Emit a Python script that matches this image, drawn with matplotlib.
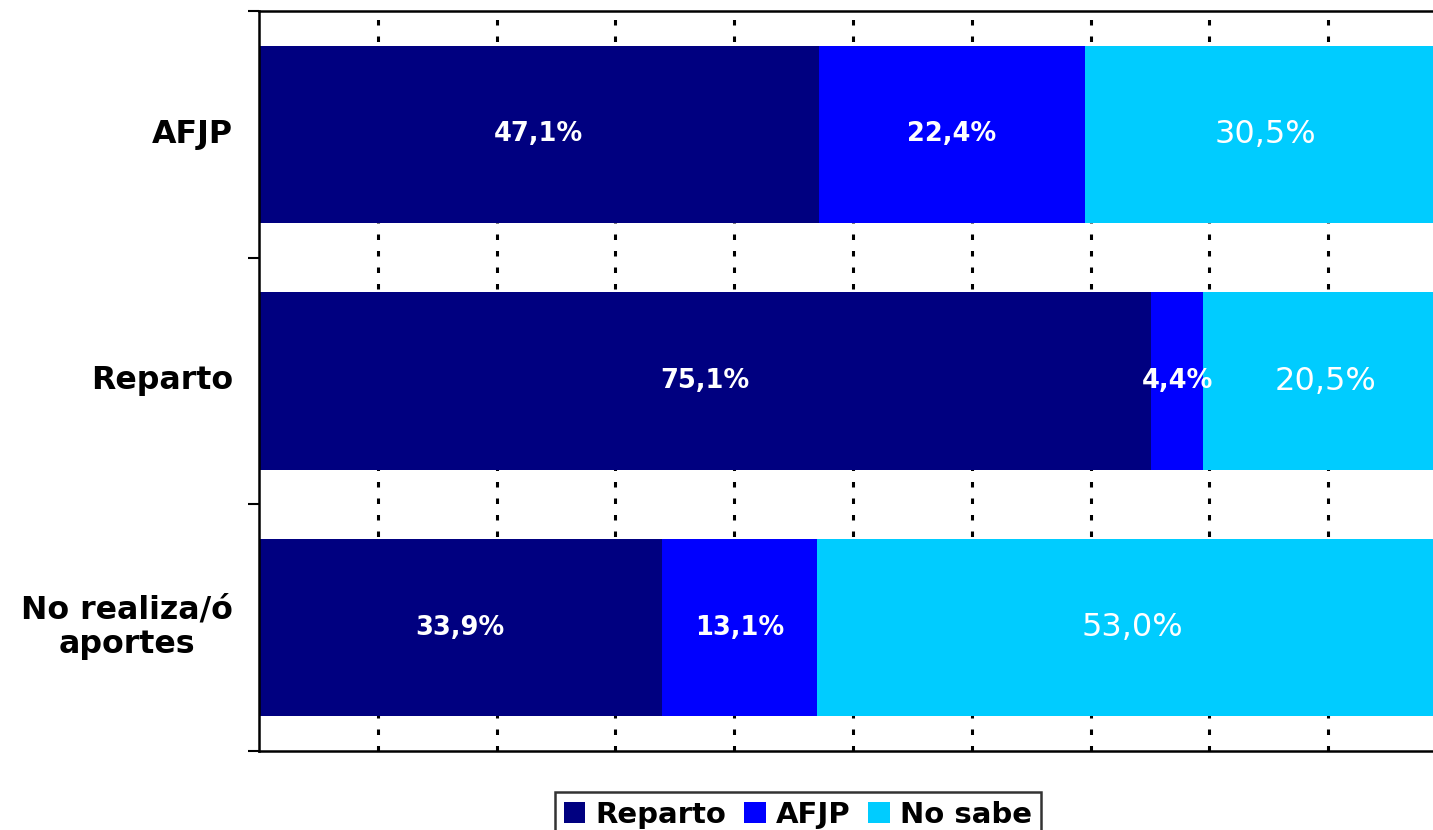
import matplotlib
matplotlib.use("Agg")
import matplotlib.pyplot as plt
import numpy as np
from matplotlib.patches import Patch

categories = ["AFJP", "Reparto", "No realiza/ó\naportes"]
series_names = ["Reparto", "AFJP", "No sabe"]
reparto = [47.1, 75.1, 33.9]
afjp = [22.4, 4.4, 13.1]
no_sabe = [30.5, 20.5, 53.0]
colors = ["#000080", "#0000FF", "#00CCFF"]

W, H = 1433, 830
fig = plt.figure(figsize=(W / 100, H / 100), dpi=100)
ax = fig.add_axes([259 / W, 1 - 751 / H, (1447 - 259) / W, (751 - 11) / H])

y = np.arange(len(categories))
data = [reparto, afjp, no_sabe]
left = np.zeros(len(categories))
for si, (vals, c) in enumerate(zip(data, colors)):
    vals = np.array(vals)
    ax.barh(y, vals, left=left, height=0.72, color=c, zorder=2)
    for yi, (l, v) in enumerate(zip(left, vals)):
        txt = f"{v:.1f}%".replace(".", ",")
        if si == 2:
            ax.text(l + v / 2, yi, txt, ha="center", va="center", color="white",
                    fontsize=23, fontweight="medium", zorder=3)
        else:
            ax.text(l + v / 2, yi, txt, ha="center", va="center", color="white",
                    fontsize=18.5, fontweight="bold", zorder=3)
    left = left + vals

ax.set_xlim(0, 100)
ax.set_ylim(2.5, -0.5)
ax.set_xticks(np.arange(10, 100, 10))
ax.tick_params(axis="x", length=0, labelbottom=False)
ax.xaxis.grid(True, color="black", linestyle=(0, (1.8, 3.6)), linewidth=2.2, zorder=1)
ax.set_axisbelow(True)
ax.set_yticks([-0.5, 0.5, 1.5, 2.5])
ax.set_yticklabels([])
ax.tick_params(axis="y", length=8, width=1.5, direction="out", color="black")
for yi, cat in enumerate(categories):
    ax.text(-2.2, yi, cat, ha="right", va="center", multialignment="center",
            fontsize=22.8, fontweight="bold", color="black", linespacing=1.15,
            transform=ax.transData)
for s in ["left", "top", "bottom"]:
    ax.spines[s].set_linewidth(1.8)
    ax.spines[s].set_color("black")
ax.spines["right"].set_visible(False)

handles = [Patch(facecolor=c, edgecolor="none", label=n) for c, n in zip(colors, series_names)]
leg = fig.legend(handles=handles, loc="upper center", bbox_to_anchor=(798 / W, 1 - 792 / H),
                 ncol=3, frameon=True, fancybox=False, edgecolor="black",
                 prop={"size": 21, "weight": "bold"}, handlelength=0.75, handleheight=0.75,
                 handletextpad=0.35, columnspacing=0.6, borderpad=0.3, borderaxespad=0)
leg.get_frame().set_linewidth(1.8)

fig.savefig("out.png", dpi=100)
